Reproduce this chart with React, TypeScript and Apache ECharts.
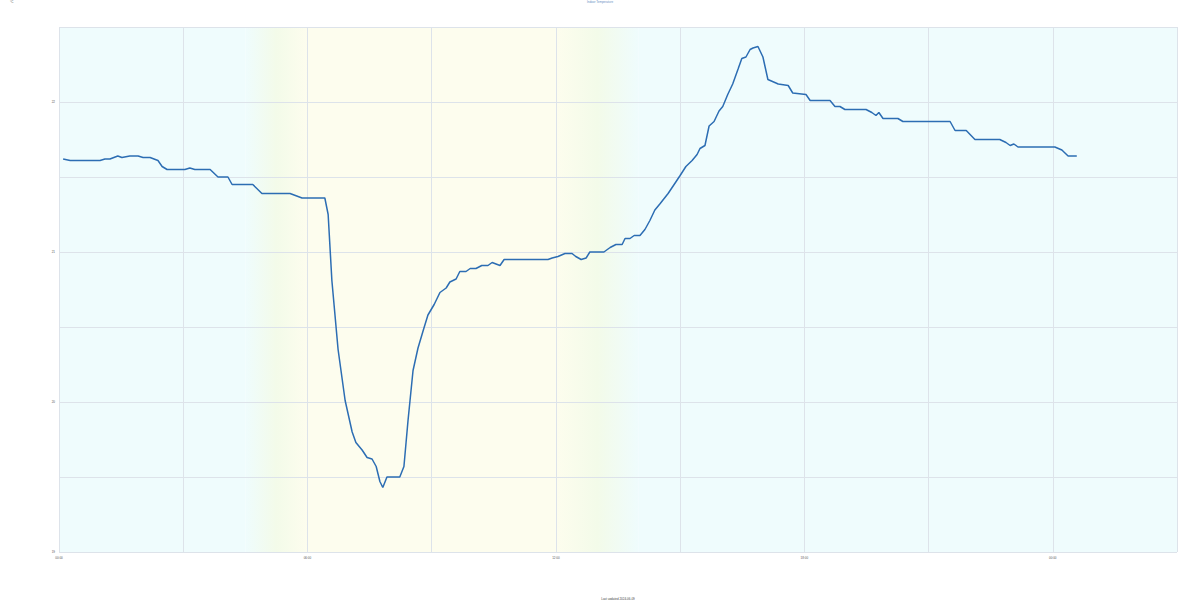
import React, { useEffect, useRef } from "react";
import * as echarts from "echarts";

const titleText = "Indoor Temperature";
const unitText = "°C";
const xAxisName = "Last updated 2024-06-09";
const hourLabels = ["00:00", "06:00", "12:00", "18:00", "00:00"];

// [hour, temperature]
const readings: [number, number][] = [
  [0.1, 21.62], [0.27, 21.61], [0.99, 21.61], [1.11, 21.62], [1.23, 21.62], [1.42, 21.64], [1.52, 21.63],
  [1.71, 21.64], [1.91, 21.64], [2.03, 21.63], [2.2, 21.63], [2.39, 21.61], [2.49, 21.57], [2.61, 21.55],
  [3.04, 21.55], [3.16, 21.56], [3.28, 21.55], [3.65, 21.55], [3.84, 21.5], [4.08, 21.5], [4.18, 21.45],
  [4.32, 21.45], [4.68, 21.45], [4.9, 21.39], [5.58, 21.39], [5.87, 21.36], [6.42, 21.36], [6.5, 21.25],
  [6.59, 20.81], [6.74, 20.35], [6.91, 20.01], [7.08, 19.8], [7.17, 19.73], [7.32, 19.68], [7.44, 19.63],
  [7.56, 19.62], [7.66, 19.57], [7.75, 19.47], [7.82, 19.43], [7.92, 19.5], [8.23, 19.5], [8.33, 19.57],
  [8.43, 19.88], [8.55, 20.21], [8.67, 20.36], [8.81, 20.49], [8.91, 20.58], [9.06, 20.65], [9.2, 20.73],
  [9.35, 20.76], [9.44, 20.8], [9.59, 20.82], [9.68, 20.87], [9.83, 20.87], [9.93, 20.89], [10.07, 20.89],
  [10.21, 20.91], [10.36, 20.91], [10.46, 20.93], [10.65, 20.91], [10.75, 20.95], [10.89, 20.95],
  [11.81, 20.95], [11.91, 20.96], [12.05, 20.97], [12.22, 20.99], [12.39, 20.99], [12.48, 20.97],
  [12.61, 20.95], [12.73, 20.96], [12.82, 21.0], [13.16, 21.0], [13.31, 21.03], [13.45, 21.05],
  [13.6, 21.05], [13.67, 21.09], [13.79, 21.09], [13.89, 21.11], [14.03, 21.11], [14.15, 21.15],
  [14.27, 21.21], [14.39, 21.28], [14.51, 21.32], [14.71, 21.39], [14.88, 21.46], [15.0, 21.51],
  [15.14, 21.57], [15.29, 21.61], [15.41, 21.65], [15.48, 21.69], [15.6, 21.71], [15.7, 21.84],
  [15.82, 21.87], [15.94, 21.94], [16.03, 21.97], [16.15, 22.05], [16.27, 22.12], [16.4, 22.22],
  [16.49, 22.29], [16.59, 22.3], [16.69, 22.35], [16.76, 22.36], [16.88, 22.37], [17.0, 22.3],
  [17.12, 22.15], [17.37, 22.12], [17.61, 22.11], [17.72, 22.06], [18.04, 22.05], [18.14, 22.01],
  [18.62, 22.01], [18.74, 21.97], [18.86, 21.97], [18.98, 21.95], [19.49, 21.95], [19.63, 21.93],
  [19.73, 21.91], [19.8, 21.93], [19.9, 21.89], [20.26, 21.89], [20.38, 21.87], [21.52, 21.87],
  [21.64, 21.81], [21.91, 21.81], [22.12, 21.75], [22.72, 21.75], [22.87, 21.73], [22.97, 21.71],
  [23.06, 21.72], [23.16, 21.7], [24.05, 21.7], [24.22, 21.68], [24.37, 21.64], [24.58, 21.64],
];

// background bands (hours)
const nightColor = "#effcfd";
const dayColor = "#fdfdee";
const twilightColor = "#f3fbe9";
const dawnStart = 4.5;
const dayStart = 6.0;
const dayEnd = 12.0;
const duskEnd = 14.0;
const xMin = 0;
const xMax = 27;

export default function App() {
  const ref = useRef<HTMLDivElement>(null);
  useEffect(() => {
    if (!ref.current) return;
    const chart = echarts.init(ref.current, null, { renderer: "svg" });
    const grad = (from: string, to: string) =>
      new echarts.graphic.LinearGradient(0, 0, 1, 0, [
        { offset: 0, color: from },
        { offset: 0.5, color: twilightColor },
        { offset: 1, color: to },
      ]);
    chart.setOption({
      animation: false,
      backgroundColor: "#ffffff",
      title: {
        text: titleText,
        left: "center",
        top: 0,
        padding: 0,
        textStyle: { fontSize: 3, color: "#6a8fc4", fontWeight: "normal" },
      },
      graphic: [
        {
          type: "text",
          left: 10,
          top: 0,
          style: { text: unitText, fontSize: 3, fill: "#555" },
        },
      ],
      grid: { left: 59, right: 23, top: 27, bottom: 48, containLabel: false, outerBoundsMode: "none" },
      xAxis: {
        type: "value",
        min: xMin,
        max: xMax,
        interval: 3,
        z: 3,
        name: xAxisName,
        nameLocation: "middle",
        nameGap: 45,
        nameTextStyle: { fontSize: 3, color: "#444" },
        axisLine: { show: false },
        axisTick: { show: false },
        axisLabel: {
          fontSize: 3,
          color: "#555",
          margin: 4,
          formatter: (v: number) => (v % 6 === 0 ? hourLabels[v / 6] : ""),
        },
        splitLine: { show: true, lineStyle: { color: "#dde3ea", width: 1 } },
      },
      yAxis: {
        type: "value",
        min: 19,
        max: 22.5,
        interval: 0.5,
        z: 3,
        axisLine: { show: false },
        axisTick: { show: false },
        axisLabel: {
          fontSize: 3,
          color: "#555",
          margin: 4,
          formatter: (v: number) => (Number.isInteger(v) ? String(v) : ""),
        },
        splitLine: { show: true, lineStyle: { color: "#dde3ea", width: 1 } },
      },
      series: [
        {
          type: "line",
          data: [],
          z: 1,
          silent: true,
          markArea: {
            silent: true,
            data: [
              [{ xAxis: xMin, itemStyle: { color: nightColor } }, { xAxis: dawnStart }],
              [{ xAxis: dawnStart, itemStyle: { color: grad(nightColor, dayColor) } }, { xAxis: dayStart }],
              [{ xAxis: dayStart, itemStyle: { color: dayColor } }, { xAxis: dayEnd }],
              [{ xAxis: dayEnd, itemStyle: { color: grad(dayColor, nightColor) } }, { xAxis: duskEnd }],
              [{ xAxis: duskEnd, itemStyle: { color: nightColor } }, { xAxis: xMax }],
            ],
          },
        },
        {
          type: "line",
          data: readings,
          showSymbol: false,
          symbol: "none",
          lineStyle: { color: "#2c6db3", width: 1.5 },
          z: 5,
        },
      ],
    });
    return () => chart.dispose();
  }, []);
  return (
    <div
      ref={ref}
      style={{ position: "fixed", left: 0, top: 0, width: 1200, height: 600 }}
    />
  );
}
